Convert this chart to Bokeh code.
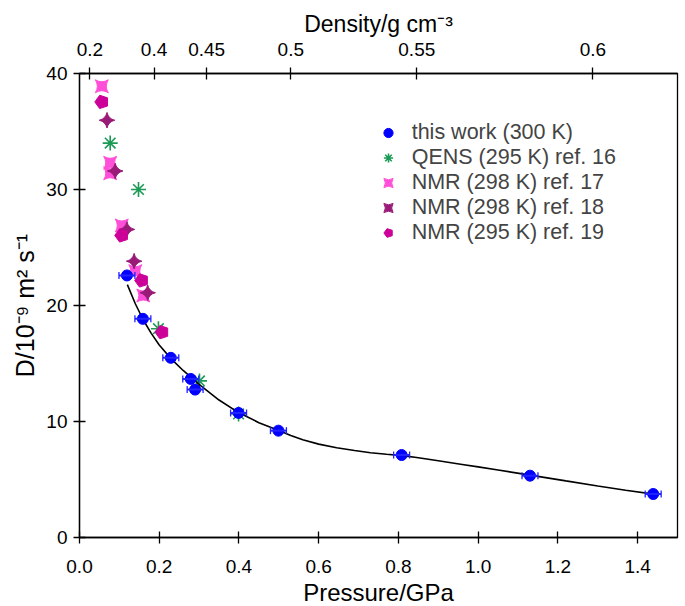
import math
from bokeh.plotting import figure
from bokeh.models import (LinearAxis, FixedTicker, Range1d, Whisker, Legend, Title,
                          LegendItem, TeeHead, ColumnDataSource, PrintfTickFormatter)
from bokeh.embed import file_html
from bokeh.resources import INLINE

# ---------------- data ----------------
tw_p = [0.119, 0.159, 0.229, 0.279, 0.290, 0.399, 0.499, 0.808, 1.130, 1.439]
tw_d = [22.59, 18.85, 15.49, 13.67, 12.75, 10.74, 9.21, 7.11, 5.33, 3.75]
tw_perr = [0.02, 0.02, 0.02, 0.02, 0.02, 0.02, 0.02, 0.02, 0.02, 0.02]

fit_p = [0.12, 0.14, 0.16, 0.18, 0.20, 0.23, 0.26, 0.30, 0.35, 0.40, 0.45, 0.50,
         0.53, 0.56, 0.60, 0.645, 0.69, 0.73, 0.77, 0.81, 0.85, 0.90, 0.96, 1.00,
         1.05, 1.13, 1.22, 1.30, 1.37, 1.44]
fit_d = [21.8, 20.15, 18.75, 17.6, 16.6, 15.4, 14.4, 13.2, 11.85, 10.75, 9.9, 9.22,
         8.80, 8.42, 8.05, 7.74, 7.50, 7.31, 7.18, 7.06, 6.88, 6.62, 6.30, 6.09,
         5.82, 5.38, 4.88, 4.44, 4.08, 3.74]

qens_p = [0.077, 0.148, 0.198, 0.301, 0.399]
qens_d = [34.0, 30.0, 18.0, 13.5, 10.65]

nmr17_p = [0.056, 0.077, 0.077, 0.106, 0.140, 0.160]
nmr17_d = [38.9, 32.3, 31.4, 26.9, 22.96, 20.86]

nmr18_p = [0.069, 0.0895, 0.119, 0.137, 0.171]
nmr18_d = [35.97, 31.59, 26.56, 23.82, 21.1]

nmr19_p = [0.056, 0.106, 0.156, 0.207]
nmr19_d = [37.55, 26.04, 22.16, 17.7]

pressure_ticks = [0.0, 0.2, 0.4, 0.6, 0.8, 1.0, 1.2, 1.4]
d_ticks = [0, 10, 20, 30, 40]
density_tick_pos = [0.026, 0.187, 0.319, 0.530, 0.846, 1.288]
density_tick_labels = ["0.2", "0.4", "0.45", "0.5", "0.55", "0.6"]

series_names = ["this work (300 K)", "QENS (295 K) ref. 16", "NMR (298 K) ref. 17",
                "NMR (298 K) ref. 18", "NMR (295 K) ref. 19"]

x_title = "Pressure/GPa"
y_title = "D/10\u207b\u2079 m\u00b2 s\u207b\u00b9"
top_title = "Density/g cm\u207b\u00b3"

# ---------------- figure ----------------
FONT = "Liberation Sans"
W, H = 685, 606
p = figure(width=W, height=H, x_range=Range1d(0, 1.5), y_range=Range1d(0, 40),
           output_backend="svg", toolbar_location=None,
           min_border_left=79, min_border_right=8, min_border_top=73, min_border_bottom=69)
p.grid.visible = False
p.outline_line_color = "black"
p.outline_line_width = 1.3
p.background_fill_color = "white"
p.border_fill_color = "white"

def style_axis(ax, standoff):
    ax.major_tick_in = 6
    ax.major_tick_out = 6
    ax.minor_tick_line_color = None
    ax.major_tick_line_color = "black"
    ax.major_tick_line_width = 1.3
    ax.axis_line_color = "black"
    ax.axis_line_width = 1.3
    ax.major_label_text_font = FONT
    ax.major_label_text_font_size = "19px"
    ax.major_label_text_color = "black"
    ax.major_label_text_line_height = 1.0
    ax.major_label_standoff = standoff

xa = p.xaxis[0]
xa.ticker = FixedTicker(ticks=pressure_ticks)
xa.formatter = PrintfTickFormatter(format="%.1f")
style_axis(xa, 16)

ya = p.yaxis[0]
ya.ticker = FixedTicker(ticks=d_ticks)
style_axis(ya, 6)

top = LinearAxis(ticker=FixedTicker(ticks=density_tick_pos),
                 major_label_overrides={k: v for k, v in zip(density_tick_pos, density_tick_labels)})
style_axis(top, 12)
p.add_layout(top, "above")

# ---------------- axis titles ----------------
def title(text, size, place, standoff=0):
    t = Title(text=text, align="center", text_font=FONT, text_color="black",
              text_font_size=f"{size}px", text_font_style="normal",
              text_line_height=1.0, standoff=standoff)
    p.add_layout(t, place)

title(x_title, 24, "below", standoff=2)
title(y_title, 25, "left", standoff=10)
title(top_title, 23, "above", standoff=5)

# ---------------- glyphs ----------------
r_qens = p.scatter(qens_p, qens_d, marker="asterisk", size=15, line_color="#1a9a55", line_width=1.6)
r_17 = p.scatter(nmr17_p, nmr17_d, marker="square_pin", size=13, fill_color="#ff4fd8",
                 line_color="#ff4fd8")
r_18 = p.scatter(nmr18_p, nmr18_d, marker="square_pin", size=11, angle=math.pi / 4,
                 fill_color="#991a77", line_color="#991a77")
r_19 = p.ngon(x=nmr19_p, y=nmr19_d, radius=7, radius_units="screen", n=5,
              angle=math.pi / 2, fill_color="#cc0099", line_color="#cc0099")

p.line(fit_p, fit_d, line_color="black", line_width=1.6)

src = ColumnDataSource(dict(p=tw_p, d=tw_d,
                            lo=[a - e for a, e in zip(tw_p, tw_perr)],
                            hi=[a + e for a, e in zip(tw_p, tw_perr)]))
wh = Whisker(source=src, base="d", lower="lo", upper="hi", dimension="width",
             line_color="#2222ff", line_width=2,
             upper_head=TeeHead(size=7, line_color="#2222ff", line_width=1.3),
             lower_head=TeeHead(size=7, line_color="#2222ff", line_width=1.3))
wh.level = "glyph"
p.add_layout(wh)
r_tw = p.scatter("p", "d", source=src, marker="circle", size=11, fill_color="#0000ff",
                 line_color="#0000ff")

# ---------------- legend ----------------
legend = Legend(items=[LegendItem(label=series_names[0], renderers=[r_tw]),
                       LegendItem(label=series_names[1], renderers=[r_qens]),
                       LegendItem(label=series_names[2], renderers=[r_17]),
                       LegendItem(label=series_names[3], renderers=[r_18]),
                       LegendItem(label=series_names[4], renderers=[r_19])],
                location=(293.7, 292), padding=0, spacing=0, margin=0,
                glyph_width=30, glyph_height=23, label_height=23, label_standoff=9,
                label_text_font=FONT, label_text_font_size="21.5px",
                label_text_line_height=1.1,
                background_fill_alpha=0, border_line_color=None)
p.add_layout(legend, "center")

open("out.html", "w").write(file_html(p, INLINE))
